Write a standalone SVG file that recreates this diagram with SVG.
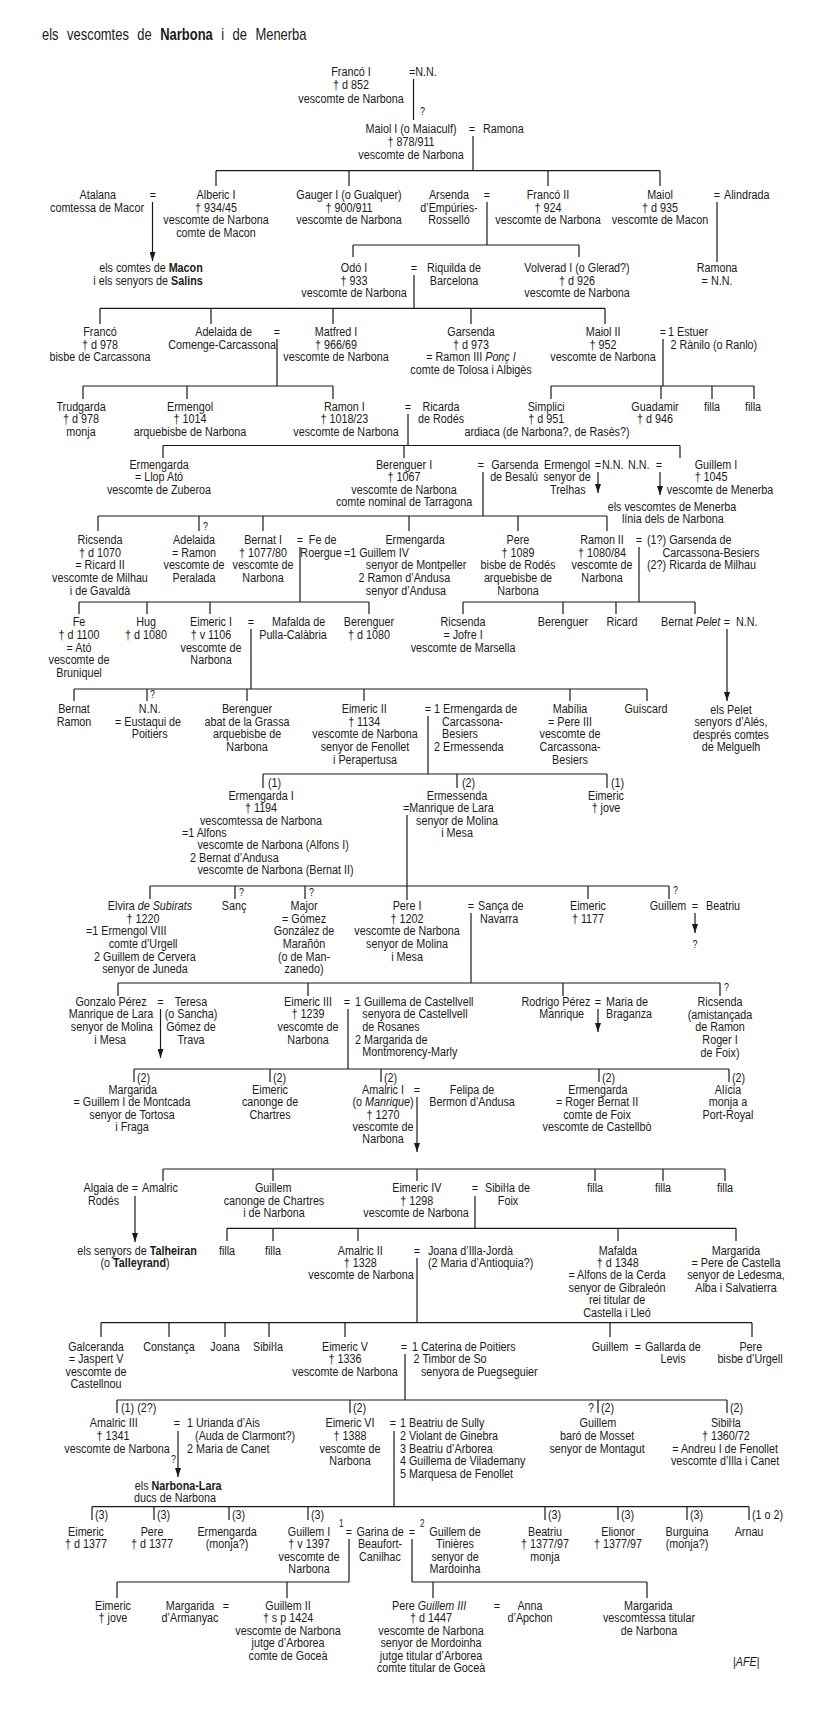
<svg xmlns="http://www.w3.org/2000/svg" width="825" height="1723" viewBox="0 0 825 1723">
<style>
text{font-family:"Liberation Sans",Arial,sans-serif;font-size:13.3px;fill:#1a1a1a;transform-box:fill-box;transform-origin:0 50%;transform:scaleX(0.81)}
.c{text-anchor:middle;transform-origin:50% 50%}
.i{font-style:italic}
.b{font-weight:bold}
.t{font-size:16px;word-spacing:6px}
.s{font-size:10px}
.q{font-size:11px}
.ln{stroke:#1a1a1a;stroke-width:1.2;fill:none}
.ar{stroke:#1a1a1a;stroke-width:1.2;fill:none;marker-end:url(#ar)}
</style>
<defs>
<marker id="ar" viewBox="0 0 10 10" refX="10" refY="5" markerWidth="9" markerHeight="6" orient="auto" markerUnits="userSpaceOnUse" preserveAspectRatio="none"><path d="M0,0 L10,5 L0,10 z" fill="#1a1a1a"/></marker>
</defs>
<rect width="825" height="1723" fill="#fff"/>
<text class="t" x="42" y="40">els vescomtes de <tspan class="b">Narbona</tspan> i de Menerba</text>

<g id="connectors">
<path class="ln" d="M413.5 79V120 M473 136V170.7 M216 170.7H660 M216 170.7V186 M349 170.7V186 M548 170.7V186 M660 170.7V186
M487 202V245 M353 245H579 M353 245V257 M579 245V257 M717 202V262
M414 275V308.3 M100 308.3H605 M100 308.3V324 M211 308.3V324 M333 308.3V324 M471 308.3V324 M605 308.3V324
M277 339V386 M83 386H333 M83 386V399 M187 386V399 M333 386V399
M663 339V386 M551 386H754 M551 386V399 M661 386V399 M712 386V399 M754 386V399
M408 414V445.5 M163 445.5H680 M163 445.5V458 M404 445.5V458 M680 445.5V458
M483 472V516 M98 516H607 M98 516V531 M199 516V531 M263 516V531 M409 516V531 M518 516V531 M607 516V531
M300 547V602 M79 602H369 M79 602V614 M147 602V614 M210 602V614 M369 602V614
M639 547V602 M463 602H695 M463 602V614 M563 602V614 M616 602V614 M695 602V614
M251 629V689 M74 689H647 M74 689V701 M147 689V701 M247 689V701 M364 689V701 M570 689V701 M647 689V701
M428 716V774 M263 774H607 M263 774V788 M457 774V788 M607 774V788
M407 815V900 M150 886H669 M150 886V899 M235 886V899 M305 886V899 M588 886V899 M669 886V899
M471 913V983 M118 983H720 M118 983V996 M308 983V996 M563 983V996 M720 983V996
M348 1009V1069 M134 1069H729 M134 1069V1082 M270 1069V1082 M381 1069V1082 M599 1069V1082 M729 1069V1082
M163 1169H725 M163 1169V1181 M273 1169V1181 M417 1169V1181 M595 1169V1181 M663 1169V1181 M725 1169V1181
M475 1196V1228.3 M227 1228.3H736 M227 1228.3V1241 M273 1228.3V1241 M358 1228.3V1241 M618 1228.3V1241 M736 1228.3V1241
M417 1258V1322.7 M101 1322.7H752 M101 1322.7V1337 M169 1322.7V1337 M225 1322.7V1337 M269 1322.7V1337 M345 1322.7V1337 M610 1322.7V1337 M752 1322.7V1337
M405 1354V1400 M117 1400H727 M117 1400V1413 M350 1400V1413 M598 1400V1413 M727 1400V1413
M394 1431V1506.7 M92 1506.7H749 M92 1506.7V1520 M154 1506.7V1520 M229 1506.7V1520 M308 1506.7V1520 M545 1506.7V1520 M618 1506.7V1520 M687 1506.7V1520 M749 1506.7V1520
M349 1539V1582 M117 1582H349 M117 1582V1598 M287 1582V1598
M412 1539V1582 M412 1582H647 M433 1582V1598 M647 1582V1598"/>
<path class="ar" d="M152.5 202V261"/>
<path class="ar" d="M598 472V493"/>
<path class="ar" d="M660 472V495"/>
<path class="ar" d="M727 629V701"/>
<path class="ar" d="M695 913V933"/>
<path class="ar" d="M160.5 1009V1058"/>
<path class="ar" d="M598 1009V1032"/>
<path class="ar" d="M417 1097V1152"/>
<path class="ar" d="M135 1196V1242"/>
<path class="ar" d="M178 1431V1477"/>
<text class="q" x="420" y="115">?</text>
<text class="q" x="203" y="530">?</text>
<text class="q" x="150" y="698">?</text>
<text x="268" y="787">(1)</text>
<text x="462" y="787">(2)</text>
<text x="611" y="787">(1)</text>
<text class="q" x="239" y="896">?</text>
<text class="q" x="309" y="896">?</text>
<text class="q" x="673" y="894">?</text>
<text class="q" x="724" y="991">?</text>
<text x="137" y="1082">(2)</text>
<text x="273" y="1082">(2)</text>
<text x="384" y="1082">(2)</text>
<text x="602" y="1082">(2)</text>
<text x="732" y="1082">(2)</text>
<text x="121" y="1412">(1) (2?)</text>
<text x="353" y="1412">(2)</text>
<text x="588" y="1412">?</text>
<text x="601" y="1412">(2)</text>
<text x="730" y="1412">(2)</text>
<text x="95" y="1519">(3)</text>
<text x="157" y="1519">(3)</text>
<text x="232" y="1519">(3)</text>
<text x="311" y="1519">(3)</text>
<text x="548" y="1519">(3)</text>
<text x="621" y="1519">(3)</text>
<text x="690" y="1519">(3)</text>
<text x="752" y="1519">(1 o 2)</text>
<text class="q" x="171" y="1463">?</text>
</g>

<g id="n-franco1"><text class="c" x="351" y="76">Francó I<tspan x="351" dy="13.5">† d 852</tspan><tspan x="351" dy="13.5">vescomte de Narbona</tspan></text><text x="409" y="76">=N.N.</text></g>
<g id="n-maiol1"><text class="c" x="411" y="133">Maiol I (o Maiaculf)<tspan x="411" dy="13">† 878/911</tspan><tspan x="411" dy="13">vescomte de Narbona</tspan></text><text class="c" x="472" y="133">=</text><text x="483" y="133">Ramona</text></g>

<g id="n-atalana"><text class="c" x="98" y="199">Atalana<tspan x="97" dy="12.7">comtessa de Macor</tspan></text><text class="c" x="153" y="199">=</text></g>
<g id="n-alberic1"><text class="c" x="216" y="199">Alberic I<tspan x="216" dy="12.7">† 934/45</tspan><tspan x="216" dy="12.7">vescomte de Narbona</tspan><tspan x="216" dy="12.7">comte de Macon</tspan></text></g>
<g id="n-gauger1"><text class="c" x="349" y="199">Gauger I (o Gualquer)<tspan x="349" dy="12.7">† 900/911</tspan><tspan x="349" dy="12.7">vescomte de Narbona</tspan></text></g>
<g id="n-arsenda"><text class="c" x="449" y="199">Arsenda<tspan x="449" dy="12.7">d’Empúries-</tspan><tspan x="449" dy="12.7">Rosselló</tspan></text><text class="c" x="487" y="199">=</text></g>
<g id="n-franco2"><text class="c" x="548" y="199">Francó II<tspan x="548" dy="12.7">† 924</tspan><tspan x="548" dy="12.7">vescomte de Narbona</tspan></text></g>
<g id="n-maiol"><text class="c" x="660" y="199">Maiol<tspan x="660" dy="12.7">† d 935</tspan><tspan x="660" dy="12.7">vescomte de Macon</tspan></text><text class="c" x="717" y="199">=</text><text x="724" y="199">Alindrada</text></g>

<g id="n-macon"><text class="c" x="151" y="272">els comtes de <tspan class="b">Macon</tspan></text><text class="c" x="148" y="285">i els senyors de <tspan class="b">Salins</tspan></text></g>
<g id="n-odo1"><text class="c" x="354" y="272">Odó I<tspan x="354" dy="12.7">† 933</tspan><tspan x="354" dy="12.7">vescomte de Narbona</tspan></text><text class="c" x="414" y="272">=</text><text class="c" x="454" y="272">Riquilda de<tspan x="454" dy="12.7">Barcelona</tspan></text></g>
<g id="n-volverad1"><text class="c" x="577" y="272">Volverad I (o Glerad?)<tspan x="577" dy="12.7">† d 926</tspan><tspan x="577" dy="12.7">vescomte de Narbona</tspan></text></g>
<g id="n-ramona"><text class="c" x="717" y="272">Ramona<tspan x="717" dy="12.7">= N.N.</tspan></text></g>

<g id="n-franco"><text class="c" x="100" y="336">Francó<tspan x="100" dy="12.6">† d 978</tspan><tspan x="100" dy="12.6">bisbe de Carcassona</tspan></text></g>
<g id="n-adelaida"><text class="c" x="224" y="336">Adelaida de<tspan x="222" dy="12.6">Comenge-Carcassona</tspan></text><text class="c" x="277" y="336">=</text></g>
<g id="n-matfred1"><text class="c" x="336" y="336">Matfred I<tspan x="336" dy="12.6">† 966/69</tspan><tspan x="336" dy="12.6">vescomte de Narbona</tspan></text></g>
<g id="n-garsenda"><text class="c" x="471" y="336">Garsenda<tspan x="471" dy="12.6">† d 973</tspan><tspan x="471" dy="12.6">= Ramon III <tspan class="i">Ponç I</tspan></tspan><tspan x="471" dy="12.6">comte de Tolosa i Albigès</tspan></text></g>
<g id="n-maiol2"><text class="c" x="603" y="336">Maiol II<tspan x="603" dy="12.6">† 952</tspan><tspan x="603" dy="12.6">vescomte de Narbona</tspan></text><text class="c" x="663" y="336">=</text><text x="668" y="336">1 Estuer<tspan x="671" dy="12.6">2 Rànilo (o Ranlo)</tspan></text></g>

<g id="n-trudgarda"><text class="c" x="81" y="411">Trudgarda<tspan x="81" dy="12.5">† d 978</tspan><tspan x="81" dy="12.5">monja</tspan></text></g>
<g id="n-ermengol"><text class="c" x="190" y="411">Ermengol<tspan x="190" dy="12.5">† 1014</tspan><tspan x="190" dy="12.5">arquebisbe de Narbona</tspan></text></g>
<g id="n-ramon1"><text class="c" x="344" y="411">Ramon I<tspan x="344" dy="12.5">† 1018/23</tspan><tspan x="346" dy="12.5">vescomte de Narbona</tspan></text><text class="c" x="408" y="411">=</text><text class="c" x="441" y="411">Ricarda<tspan x="441" dy="12.5">de Rodés</tspan></text></g>
<g id="n-simplici"><text class="c" x="546" y="411">Simplici<tspan x="546" dy="12.5">† d 951</tspan><tspan x="547" dy="12.5">ardiaca (de Narbona?, de Rasès?)</tspan></text></g>
<g id="n-guadamir"><text class="c" x="655" y="411">Guadamir<tspan x="655" dy="12.5">† d 946</tspan></text></g>
<g id="n-filla-a"><text class="c" x="712" y="411">filla</text></g>
<g id="n-filla-b"><text class="c" x="753" y="411">filla</text></g>

<g id="n-ermengarda-a"><text class="c" x="159" y="469">Ermengarda<tspan x="159" dy="12.5">= Llop Ató</tspan><tspan x="159" dy="12.5">vescomte de Zuberoa</tspan></text></g>
<g id="n-berenguer1"><text class="c" x="404" y="469">Berenguer I<tspan x="404" dy="12.5">† 1067</tspan><tspan x="404" dy="12.5">vescomte de Narbona</tspan><tspan x="404" dy="12.5">comte nominal de Tarragona</tspan></text><text class="c" x="481" y="469">=</text><text class="c" x="515" y="469">Garsenda<tspan x="514" dy="12.5">de Besalú</tspan></text></g>
<g id="n-ermengol-t"><text class="c" x="567" y="469">Ermengol<tspan x="567" dy="12.5">senyor de</tspan><tspan x="568" dy="12.5">Trelhas</tspan></text><text class="c" x="598" y="469">=</text><text x="602" y="469">N.N.</text></g>
<g id="n-guillem1-m"><text x="628" y="469">N.N.</text><text class="c" x="659" y="469">=</text><text class="c" x="715" y="469">Guillem I<tspan x="709" dy="12.5">† 1045</tspan><tspan x="720" dy="12.5">vescomte de Menerba</tspan></text></g>
<g id="n-menerba"><text class="c" x="672" y="511">els vescomtes de Menerba<tspan x="673" dy="12.5">línia dels de Narbona</tspan></text></g>

<g id="n-ricsenda-a"><text class="c" x="100" y="544">Ricsenda<tspan x="100" dy="12.7">† d 1070</tspan><tspan x="100" dy="12.7">= Ricard II</tspan><tspan x="100" dy="12.7">vescomte de Milhau</tspan><tspan x="100" dy="12.7">i de Gavaldà</tspan></text></g>
<g id="n-adelaida-p"><text class="c" x="194" y="544">Adelaida<tspan x="194" dy="12.7">= Ramon</tspan><tspan x="194" dy="12.7">vescomte de</tspan><tspan x="194" dy="12.7">Peralada</tspan></text></g>
<g id="n-bernat1"><text class="c" x="263" y="544">Bernat I<tspan x="263" dy="12.7">† 1077/80</tspan><tspan x="263" dy="12.7">vescomte de</tspan><tspan x="263" dy="12.7">Narbona</tspan></text><text class="c" x="300" y="544">=</text><text class="c" x="323" y="544">Fe de<tspan x="321" dy="12.7">Roergue</tspan></text></g>
<g id="n-ermengarda-b"><text class="c" x="415" y="544">Ermengarda</text><text x="344" y="556.7">=1 Guillem IV<tspan x="371" dy="12.7">senyor de Montpeller</tspan><tspan x="362" dy="12.7">2 Ramon d’Andusa</tspan><tspan x="371" dy="12.7">senyor d’Andusa</tspan></text></g>
<g id="n-pere-r"><text class="c" x="518" y="544">Pere<tspan x="518" dy="12.7">† 1089</tspan><tspan x="518" dy="12.7">bisbe de Rodés</tspan><tspan x="518" dy="12.7">arquebisbe de</tspan><tspan x="518" dy="12.7">Narbona</tspan></text></g>
<g id="n-ramon2"><text class="c" x="602" y="544">Ramon II<tspan x="602" dy="12.7">† 1080/84</tspan><tspan x="602" dy="12.7">vescomte de</tspan><tspan x="602" dy="12.7">Narbona</tspan></text><text class="c" x="639" y="544">=</text><text x="647" y="544">(1?) Garsenda de<tspan x="666" dy="12.7">Carcassona-Besiers</tspan><tspan x="647" dy="12.7">(2?) Ricarda de Milhau</tspan></text></g>

<g id="n-fe"><text class="c" x="79" y="626.3">Fe<tspan x="79" dy="12.7">† d 1100</tspan><tspan x="79" dy="12.7">= Ató</tspan><tspan x="79" dy="12.7">vescomte de</tspan><tspan x="79" dy="12.7">Bruniquel</tspan></text></g>
<g id="n-hug"><text class="c" x="146" y="626.3">Hug<tspan x="146" dy="12.7">† d 1080</tspan></text></g>
<g id="n-eimeric1"><text class="c" x="211" y="626.3">Eimeric I<tspan x="211" dy="12.7">† v 1106</tspan><tspan x="211" dy="12.7">vescomte de</tspan><tspan x="211" dy="12.7">Narbona</tspan></text><text class="c" x="251" y="626.3">=</text><text class="c" x="300" y="626.3">Mafalda de<tspan x="293" dy="12.7">Pulla-Calàbria</tspan></text></g>
<g id="n-berenguer-a"><text class="c" x="369" y="626.3">Berenguer<tspan x="369" dy="12.7">† d 1080</tspan></text></g>
<g id="n-ricsenda-b"><text class="c" x="463" y="626.3">Ricsenda<tspan x="463" dy="12.7">= Jofre I</tspan><tspan x="463" dy="12.7">vescomte de Marsella</tspan></text></g>
<g id="n-berenguer-b"><text class="c" x="563" y="626.3">Berenguer</text></g>
<g id="n-ricard"><text class="c" x="622" y="626.3">Ricard</text></g>
<g id="n-bernat-pelet"><text x="661" y="626.3">Bernat <tspan class="i">Pelet</tspan></text><text class="c" x="727" y="626.3">=</text><text x="736" y="626.3">N.N.</text></g>
<g id="n-pelet"><text class="c" x="731" y="714">els Pelet<tspan x="731" dy="12.5">senyors d’Alés,</tspan><tspan x="731" dy="12.5">després comtes</tspan><tspan x="731" dy="12.5">de Melguelh</tspan></text></g>

<g id="n-bernat-ramon"><text class="c" x="74" y="713">Bernat<tspan x="74" dy="12.7">Ramon</tspan></text></g>
<g id="n-nn-e"><text class="c" x="150" y="713">N.N.<tspan x="148" dy="12.7">= Eustaqui de</tspan><tspan x="150" dy="12.7">Poitiers</tspan></text></g>
<g id="n-berenguer-c"><text class="c" x="247" y="713">Berenguer<tspan x="247" dy="12.7">abat de la Grassa</tspan><tspan x="247" dy="12.7">arquebisbe de</tspan><tspan x="247" dy="12.7">Narbona</tspan></text></g>
<g id="n-eimeric2"><text class="c" x="364" y="713">Eimeric II<tspan x="364" dy="12.7">† 1134</tspan><tspan x="365" dy="12.7">vescomte de Narbona</tspan><tspan x="365" dy="12.7">senyor de Fenollet</tspan><tspan x="365" dy="12.7">i Perapertusa</tspan></text><text class="c" x="428" y="713">=</text><text x="434" y="713">1 Ermengarda de<tspan x="444" dy="12.7">Carcassona-</tspan><tspan x="444" dy="12.7">Besiers</tspan><tspan x="434" dy="12.7">2 Ermessenda</tspan></text></g>
<g id="n-mabilia"><text class="c" x="570" y="713">Mabília<tspan x="570" dy="12.7">= Pere III</tspan><tspan x="570" dy="12.7">vescomte de</tspan><tspan x="570" dy="12.7">Carcassona-</tspan><tspan x="570" dy="12.7">Besiers</tspan></text></g>
<g id="n-guiscard"><text class="c" x="646" y="713">Guiscard</text></g>

<g id="n-ermengarda1"><text class="c" x="261" y="800">Ermengarda I<tspan x="261" dy="12.4">† 1194</tspan><tspan x="261" dy="12.4">vescomtessa de Narbona</tspan></text><text x="182" y="837">=1 Alfons<tspan x="201" dy="12.4">vescomte de Narbona (Alfons I)</tspan><tspan x="192" dy="12.4">2 Bernat d’Andusa</tspan><tspan x="201" dy="12.4">vescomte de Narbona (Bernat II)</tspan></text></g>
<g id="n-ermessenda"><text class="c" x="457" y="800">Ermessenda</text><text x="403" y="812.4">=Manrique de Lara</text><text class="c" x="457" y="824.8">senyor de Molina<tspan x="457" dy="12.4">i Mesa</tspan></text></g>
<g id="n-eimeric-j"><text class="c" x="606" y="800">Eimeric<tspan x="606" dy="12.4">† jove</tspan></text></g>

<g id="n-elvira"><text class="c" x="150" y="910">Elvira <tspan class="i">de Subirats</tspan></text><text class="c" x="143" y="922.7">† 1220</text><text x="86" y="935.3">=1 Ermengol VIII<tspan x="114" dy="12.7">comte d’Urgell</tspan><tspan x="96" dy="12.7">2 Guillem de Cervera</tspan><tspan x="106" dy="12.7">senyor de Juneda</tspan></text></g>
<g id="n-sanc"><text class="c" x="234" y="910">Sanç</text></g>
<g id="n-major"><text class="c" x="304" y="910">Major<tspan x="304" dy="12.7">= Gómez</tspan><tspan x="304" dy="12.7">González de</tspan><tspan x="304" dy="12.7">Marañón</tspan><tspan x="304" dy="12.7">(o de Man-</tspan><tspan x="304" dy="12.7">zanedo)</tspan></text></g>
<g id="n-pere1"><text class="c" x="407" y="910">Pere I<tspan x="407" dy="12.7">† 1202</tspan><tspan x="407" dy="12.7">vescomte de Narbona</tspan><tspan x="407" dy="12.7">senyor de Molina</tspan><tspan x="407" dy="12.7">i Mesa</tspan></text><text class="c" x="471" y="910">=</text><text x="478" y="910">Sança de</text><text class="c" x="499" y="922.7">Navarra</text></g>
<g id="n-eimeric-b"><text class="c" x="588" y="910">Eimeric<tspan x="588" dy="12.7">† 1177</tspan></text></g>
<g id="n-guillem-b"><text class="c" x="668" y="910">Guillem</text><text class="c" x="695" y="910">=</text><text x="706" y="910">Beatriu</text><text class="c q" x="695" y="948">?</text></g>

<g id="n-gonzalo"><text class="c" x="111" y="1005.7">Gonzalo Pérez<tspan x="111" dy="12.7">Manrique de Lara</tspan><tspan x="112" dy="12.7">senyor de Molina</tspan><tspan x="110" dy="12.7">i Mesa</tspan></text><text class="c" x="160.5" y="1005.7">=</text><text class="c" x="191" y="1005.7">Teresa<tspan x="191" dy="12.7">(o Sancha)</tspan><tspan x="191" dy="12.7">Gómez de</tspan><tspan x="191" dy="12.7">Trava</tspan></text></g>
<g id="n-eimeric3"><text class="c" x="308" y="1005.7">Eimeric III<tspan x="308" dy="12.7">† 1239</tspan><tspan x="308" dy="12.7">vescomte de</tspan><tspan x="308" dy="12.7">Narbona</tspan></text><text class="c" x="347" y="1005.7">=</text><text x="355" y="1005.7">1 Guillema de Castellvell<tspan x="364" dy="12.7">senyora de Castellvell</tspan><tspan x="364" dy="12.7">de Rosanes</tspan><tspan x="355" dy="12.7">2 Margarida de</tspan><tspan x="364" dy="12.7">Montmorency-Marly</tspan></text></g>
<g id="n-rodrigo"><text class="c" x="556" y="1005.7">Rodrigo Pérez<tspan x="563" dy="12.7">Manrique</tspan></text><text class="c" x="598" y="1005.7">=</text><text x="606" y="1005.7">Maria de<tspan x="606" dy="12.7">Braganza</tspan></text></g>
<g id="n-ricsenda-c"><text class="c" x="720" y="1006">Ricsenda<tspan x="720" dy="12.7">(amistançada</tspan><tspan x="720" dy="12.7">de Ramon</tspan><tspan x="720" dy="12.7">Roger I</tspan><tspan x="720" dy="12.7">de Foix)</tspan></text></g>

<g id="n-margarida-a"><text class="c" x="133" y="1094">Margarida<tspan x="132" dy="12.3">= Guillem I de Montcada</tspan><tspan x="132" dy="12.3">senyor de Tortosa</tspan><tspan x="132" dy="12.3">i Fraga</tspan></text></g>
<g id="n-eimeric-c"><text class="c" x="270" y="1094">Eimeric<tspan x="270" dy="12.3">canonge de</tspan><tspan x="270" dy="12.3">Chartres</tspan></text></g>
<g id="n-amalric1"><text class="c" x="383" y="1094">Amalric I<tspan x="383" dy="12.3">(o <tspan class="i">Manrique</tspan>)</tspan><tspan x="383" dy="12.3">† 1270</tspan><tspan x="383" dy="12.3">vescomte de</tspan><tspan x="383" dy="12.3">Narbona</tspan></text><text class="c" x="417" y="1094">=</text><text class="c" x="472" y="1094">Felipa de<tspan x="472" dy="12.3">Bermon d’Andusa</tspan></text></g>
<g id="n-ermengarda-c"><text class="c" x="598" y="1094">Ermengarda<tspan x="597" dy="12.3">= Roger Bernat II</tspan><tspan x="597" dy="12.3">comte de Foix</tspan><tspan x="597" dy="12.3">vescomte de Castellbò</tspan></text></g>
<g id="n-alicia"><text class="c" x="728" y="1094">Alícia<tspan x="728" dy="12.3">monja a</tspan><tspan x="728" dy="12.3">Port-Royal</tspan></text></g>

<g id="n-amalric"><text class="c" x="106" y="1192.3">Algaia de<tspan x="103" dy="12.4">Rodés</tspan></text><text class="c" x="135" y="1192.3">=</text><text x="142" y="1192.3">Amalric</text></g>
<g id="n-guillem-c"><text class="c" x="273" y="1192.3">Guillem<tspan x="274" dy="12.4">canonge de Chartres</tspan><tspan x="274" dy="12.4">i de Narbona</tspan></text></g>
<g id="n-eimeric4"><text class="c" x="417" y="1192.3">Eimeric IV<tspan x="417" dy="12.4">† 1298</tspan><tspan x="416" dy="12.4">vescomte de Narbona</tspan></text><text class="c" x="475" y="1192.3">=</text><text x="485" y="1192.3">Sibiŀla de</text><text class="c" x="508" y="1204.7">Foix</text></g>
<g id="n-filla-c"><text class="c" x="595" y="1192.3">filla</text></g>
<g id="n-filla-d"><text class="c" x="663" y="1192.3">filla</text></g>
<g id="n-filla-e"><text class="c" x="725" y="1192.3">filla</text></g>

<g id="n-talheiran"><text class="c" x="137" y="1254.7">els senyors de <tspan class="b">Talheiran</tspan></text><text class="c" x="135" y="1267">(o <tspan class="b">Talleyrand</tspan>)</text></g>
<g id="n-filla-f"><text class="c" x="227" y="1254.7">filla</text></g>
<g id="n-filla-g"><text class="c" x="273" y="1254.7">filla</text></g>
<g id="n-amalric2"><text class="c" x="360" y="1254.7">Amalric II<tspan x="360" dy="12.4">† 1328</tspan><tspan x="361" dy="12.4">vescomte de Narbona</tspan></text><text class="c" x="417" y="1254.7">=</text><text x="428" y="1254.7">Joana d’Illa-Jordà<tspan x="428" dy="12.4">(2 Maria d’Antioquia?)</tspan></text></g>
<g id="n-mafalda"><text class="c" x="618" y="1254.7">Mafalda<tspan x="618" dy="12.4">† d 1348</tspan><tspan x="617" dy="12.4">= Alfons de la Cerda</tspan><tspan x="617" dy="12.4">senyor de Gibraleón</tspan><tspan x="617" dy="12.4">rei titular de</tspan><tspan x="617" dy="12.4">Castella i Lleó</tspan></text></g>
<g id="n-margarida-b"><text class="c" x="736" y="1254.7">Margarida<tspan x="736" dy="12.4">= Pere de Castella</tspan><tspan x="736" dy="12.4">senyor de Ledesma,</tspan><tspan x="736" dy="12.4">Alba i Salvatierra</tspan></text></g>

<g id="n-galceranda"><text class="c" x="96" y="1350.7">Galceranda<tspan x="96" dy="12.5">= Jaspert V</tspan><tspan x="96" dy="12.5">vescomte de</tspan><tspan x="96" dy="12.5">Castellnou</tspan></text></g>
<g id="n-constanca"><text class="c" x="169" y="1350.7">Constança</text></g>
<g id="n-joana"><text class="c" x="225" y="1350.7">Joana</text></g>
<g id="n-sibilla-a"><text class="c" x="268" y="1350.7">Sibiŀla</text></g>
<g id="n-eimeric5"><text class="c" x="345" y="1350.7">Eimeric V<tspan x="345" dy="12.5">† 1336</tspan><tspan x="345" dy="12.5">vescomte de Narbona</tspan></text><text class="c" x="404" y="1350.7">=</text><text x="412" y="1350.7">1 Caterina de Poitiers<tspan x="414" dy="12.5">2 Timbor de So</tspan><tspan x="423" dy="12.5">senyora de Puegseguier</tspan></text></g>
<g id="n-guillem-d"><text class="c" x="610" y="1350.7">Guillem</text><text class="c" x="638" y="1350.7">=</text><text x="645" y="1350.7">Gallarda de</text><text class="c" x="673" y="1363.2">Levis</text></g>
<g id="n-pere-u"><text class="c" x="751" y="1350.7">Pere<tspan x="750" dy="12.5">bisbe d’Urgell</tspan></text></g>

<g id="n-amalric3"><text class="c" x="113" y="1427.5">Amalric III<tspan x="112" dy="12.6">† 1341</tspan><tspan x="117" dy="12.6">vescomte de Narbona</tspan></text><text class="c" x="177" y="1427.5">=</text><text x="187" y="1427.5">1 Urianda d’Ais<tspan x="197" dy="12.6">(Auda de Clarmont?)</tspan><tspan x="187" dy="12.6">2 Maria de Canet</tspan></text></g>
<g id="n-narbona-lara"><text x="135" y="1490">els <tspan class="b">Narbona-Lara</tspan><tspan x="134" dy="12">ducs de Narbona</tspan></text></g>
<g id="n-eimeric6"><text class="c" x="350" y="1427.5">Eimeric VI<tspan x="350" dy="12.6">† 1388</tspan><tspan x="350" dy="12.6">vescomte de</tspan><tspan x="350" dy="12.6">Narbona</tspan></text><text class="c" x="393" y="1427.5">=</text><text x="400" y="1427.5">1 Beatriu de Sully<tspan x="400" dy="12.6">2 Violant de Ginebra</tspan><tspan x="400" dy="12.6">3 Beatriu d’Arborea</tspan><tspan x="400" dy="12.6">4 Guillema de Vilademany</tspan><tspan x="400" dy="12.6">5 Marquesa de Fenollet</tspan></text></g>
<g id="n-guillem-e"><text class="c" x="598" y="1427.5">Guillem<tspan x="597" dy="12.6">baró de Mosset</tspan><tspan x="597" dy="12.6">senyor de Montagut</tspan></text></g>
<g id="n-sibilla-b"><text class="c" x="726" y="1427.5">Sibiŀla<tspan x="726" dy="12.6">† 1360/72</tspan><tspan x="725" dy="12.6">= Andreu I de Fenollet</tspan><tspan x="725" dy="12.6">vescomte d’Illa i Canet</tspan></text></g>

<g id="n-eimeric-d"><text class="c" x="86" y="1535.7">Eimeric<tspan x="86" dy="12.5">† d 1377</tspan></text></g>
<g id="n-pere-d"><text class="c" x="152" y="1535.7">Pere<tspan x="152" dy="12.5">† d 1377</tspan></text></g>
<g id="n-ermengarda-d"><text class="c" x="227" y="1535.7">Ermengarda<tspan x="227" dy="12.5">(monja?)</tspan></text></g>
<g id="n-guillem1"><text class="c" x="309" y="1535.7">Guillem I<tspan x="309" dy="12.5">† v 1397</tspan><tspan x="309" dy="12.5">vescomte de</tspan><tspan x="309" dy="12.5">Narbona</tspan></text><text class="s" x="339" y="1527">1</text><text class="c" x="349" y="1535.7">=</text></g>
<g id="n-garina"><text class="c" x="380" y="1535.7">Garina de<tspan x="380" dy="12.5">Beaufort-</tspan><tspan x="380" dy="12.5">Canilhac</tspan></text></g>
<g id="n-guillem-t"><text class="c" x="412" y="1535.7">=</text><text class="s" x="420" y="1527">2</text><text class="c" x="455" y="1535.7">Guillem de<tspan x="455" dy="12.5">Tinières</tspan><tspan x="455" dy="12.5">senyor de</tspan><tspan x="455" dy="12.5">Mardoinha</tspan></text></g>
<g id="n-beatriu"><text class="c" x="545" y="1535.7">Beatriu<tspan x="545" dy="12.5">† 1377/97</tspan><tspan x="545" dy="12.5">monja</tspan></text></g>
<g id="n-elionor"><text class="c" x="618" y="1535.7">Elionor<tspan x="618" dy="12.5">† 1377/97</tspan></text></g>
<g id="n-burguina"><text class="c" x="687" y="1535.7">Burguina<tspan x="687" dy="12.5">(monja?)</tspan></text></g>
<g id="n-arnau"><text class="c" x="749" y="1535.7">Arnau</text></g>

<g id="n-eimeric-e"><text class="c" x="113" y="1610">Eimeric<tspan x="113" dy="12.5">† jove</tspan></text></g>
<g id="n-guillem2"><text class="c" x="190" y="1610">Margarida<tspan x="190" dy="12.5">d’Armanyac</tspan></text><text class="c" x="226" y="1610">=</text><text class="c" x="288" y="1610">Guillem II<tspan x="288" dy="12.5">† s p 1424</tspan><tspan x="288" dy="12.5">vescomte de Narbona</tspan><tspan x="288" dy="12.5">jutge d’Arborea</tspan><tspan x="288" dy="12.5">comte de Goceà</tspan></text></g>
<g id="n-guillem3"><text class="c" x="429" y="1610">Pere <tspan class="i">Guillem III</tspan></text><text class="c" x="431" y="1622.5">† d 1447<tspan x="431" dy="12.5">vescomte de Narbona</tspan><tspan x="431" dy="12.5">senyor de Mordoinha</tspan><tspan x="431" dy="12.5">jutge titular d’Arborea</tspan><tspan x="431" dy="12.5">comte titular de Goceà</tspan></text><text class="c" x="497" y="1610">=</text><text class="c" x="530" y="1610">Anna<tspan x="530" dy="12.5">d’Apchon</tspan></text></g>
<g id="n-margarida-c"><text class="c" x="648" y="1610">Margarida<tspan x="649" dy="12.5">vescomtessa titular</tspan><tspan x="649" dy="12.5">de Narbona</tspan></text></g>
<text x="733" y="1665.7">|<tspan class="i">AFE</tspan>|</text>
</svg>
